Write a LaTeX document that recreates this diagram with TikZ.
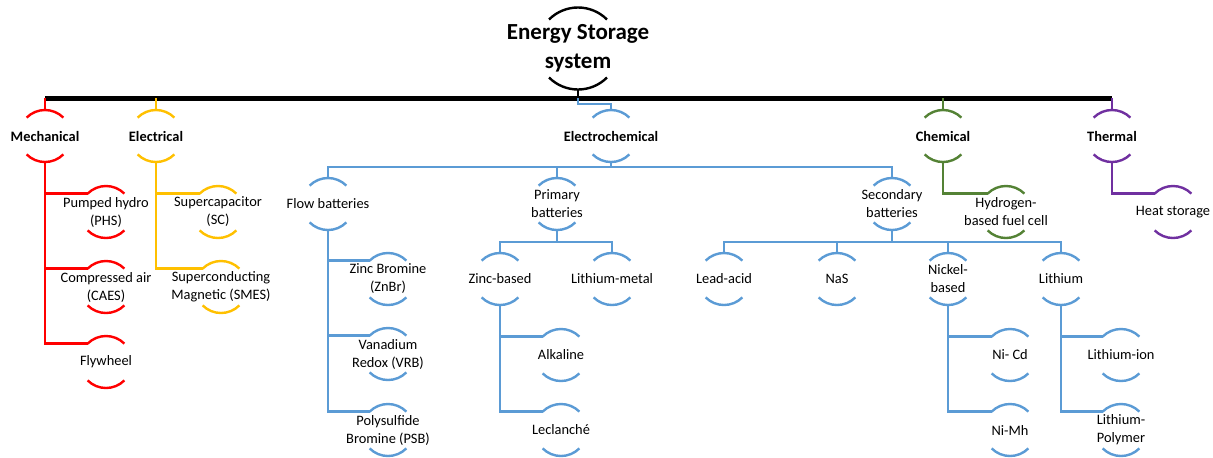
\documentclass[tikz,border=0pt]{standalone}
\usepackage{fontspec}
\setmainfont{Carlito}
\usepackage{tikz}
\definecolor{mechred}{HTML}{FF0000}
\definecolor{elecyellow}{HTML}{FFC000}
\definecolor{echemblue}{HTML}{5B9BD5}
\definecolor{chemgreen}{HTML}{548235}
\definecolor{thermpurple}{HTML}{7030A0}
\newcommand{\itemsize}{\fontsize{7.2}{9}\selectfont}
\newcommand{\topsize}{\fontsize{11.5}{14.5}\selectfont}
\tikzset{
    arcitem/.style 2 args={font=\itemsize, align=center, inner sep=0pt,
        append after command={\pgfextra{
            \draw[#1, line width=1.2pt] ([shift={(135:#2)}]\tikzlastnode.center) arc[start angle=135, end angle=45, radius=#2];
            \draw[#1, line width=1.2pt] ([shift={(225:#2)}]\tikzlastnode.center) arc[start angle=225, end angle=315, radius=#2];
            \coordinate (\tikzlastnode-t) at ([shift={(90:#2)}]\tikzlastnode.center);
            \coordinate (\tikzlastnode-b) at ([shift={(270:#2)}]\tikzlastnode.center);
            \coordinate (\tikzlastnode-l) at ([shift={(135:#2)}]\tikzlastnode.center);
        }}},
    item/.style={arcitem={#1}{13pt}},
    head/.style={arcitem={#1}{13pt}, font=\itemsize\bfseries},
    link/.style={line width=1.2pt, #1},
}

\begin{document}
\begin{tikzpicture}[x=0.5pt, y=-0.5pt]
    \useasboundingbox (0,0) rectangle (1213,457);

    \node[arcitem={black}{20.5pt}, font=\topsize\bfseries] (root) at (578,48.5) {Energy Storage\\system};
    \coordinate (bus) at (578,98);

    \node[head=mechred] (mech) at (45,136) {Mechanical};
    \node[head=elecyellow] (elec) at (156,136) {Electrical};
    \node[head=echemblue] (echem) at (611,136) {Electrochemical};
    \node[head=chemgreen] (chem) at (943,136) {Chemical};
    \node[head=thermpurple] (therm) at (1112,136) {Thermal};

    \node[item=mechred] (phs) at (106,212) {Pumped hydro\\(PHS)};
    \node[item=mechred] (caes) at (106,287) {Compressed air\\(CAES)};
    \node[item=mechred] (fly) at (106,362) {Flywheel};
    \node[item=elecyellow] (sc) at (218,212) {Supercapacitor\\(SC)};
    \node[item=elecyellow] (smes) at (221,287) {Superconducting\\Magnetic (SMES)};

    \node[item=echemblue] (flow) at (328,204) {Flow batteries};
    \node[item=echemblue] (prim) at (557,204) {Primary\\batteries};
    \node[item=echemblue] (sec) at (892,204) {Secondary\\batteries};

    \node[item=echemblue] (znbr) at (388,279) {Zinc Bromine\\(ZnBr)};
    \node[item=echemblue] (vrb) at (388,354) {Vanadium\\Redox (VRB)};
    \node[item=echemblue] (psb) at (388,430) {Polysulfide\\Bromine (PSB)};

    \node[item=echemblue] (zinc) at (500,279) {Zinc-based};
    \node[item=echemblue] (limet) at (612,279) {Lithium-metal};
    \node[item=echemblue] (alk) at (561,355) {Alkaline};
    \node[item=echemblue] (lec) at (561,430) {Leclanché};

    \node[item=echemblue] (lead) at (724,279) {Lead-acid};
    \node[item=echemblue] (nas) at (837,279) {NaS};
    \node[item=echemblue] (nick) at (948,279) {Nickel-\\based};
    \node[item=echemblue] (lith) at (1061,279) {Lithium};
    \node[item=echemblue] (nicd) at (1010,355) {Ni- Cd};
    \node[item=echemblue] (nimh) at (1010,430) {Ni-Mh};
    \node[item=echemblue] (liion) at (1121,355) {Lithium-ion};
    \node[item=echemblue] (lipo) at (1121,430) {Lithium-\\Polymer};

    \node[item=chemgreen] (hyd) at (1006,212) {Hydrogen-\\based fuel cell};
    \node[item=thermpurple] (heat) at (1173,212) {Heat storage};

    \draw[link=black, line width=2.5pt] (mech-t |- bus) -- (therm-t |- bus);
    \draw[link=black] (root-b) -- (bus);
    \draw[link=mechred] (mech-t |- bus) -- (mech-t);
    \draw[link=elecyellow] (elec-t |- bus) -- (elec-t);
    \draw[link=echemblue] (bus) -- ++(0,6) -| (echem-t);
    \draw[link=chemgreen] (chem-t |- bus) -- (chem-t);
    \draw[link=thermpurple] (therm-t |- bus) -- (therm-t);

    \draw[link=mechred] (mech-b) |- (phs-l);
    \draw[link=mechred] (mech-b) |- (caes-l);
    \draw[link=mechred] (mech-b) |- (fly-l);
    \draw[link=elecyellow] (elec-b) |- (sc-l);
    \draw[link=elecyellow] (elec-b) |- (smes-l);
    \draw[link=chemgreen] (chem-b) |- (hyd-l);
    \draw[link=thermpurple] (therm-b) |- (heat-l);

    \draw[link=echemblue] (echem-b) -- ++(0,5) -| (flow-t);
    \draw[link=echemblue] (echem-b) -- ++(0,5) -| (prim-t);
    \draw[link=echemblue] (echem-b) -- ++(0,5) -| (sec-t);

    \draw[link=echemblue] (flow-b) |- (znbr-l);
    \draw[link=echemblue] (flow-b) |- (vrb-l);
    \draw[link=echemblue] (flow-b) |- (psb-l);

    \draw[link=echemblue] (prim-b) -- ++(0,12) -| (zinc-t);
    \draw[link=echemblue] (prim-b) -- ++(0,12) -| (limet-t);
    \draw[link=echemblue] (zinc-b) |- (alk-l);
    \draw[link=echemblue] (zinc-b) |- (lec-l);

    \draw[link=echemblue] (sec-b) -- ++(0,12) -| (lead-t);
    \draw[link=echemblue] (sec-b) -- ++(0,12) -| (nas-t);
    \draw[link=echemblue] (sec-b) -- ++(0,12) -| (nick-t);
    \draw[link=echemblue] (sec-b) -- ++(0,12) -| (lith-t);
    \draw[link=echemblue] (nick-b) |- (nicd-l);
    \draw[link=echemblue] (nick-b) |- (nimh-l);
    \draw[link=echemblue] (lith-b) |- (liion-l);
    \draw[link=echemblue] (lith-b) |- (lipo-l);
\end{tikzpicture}
\end{document}
